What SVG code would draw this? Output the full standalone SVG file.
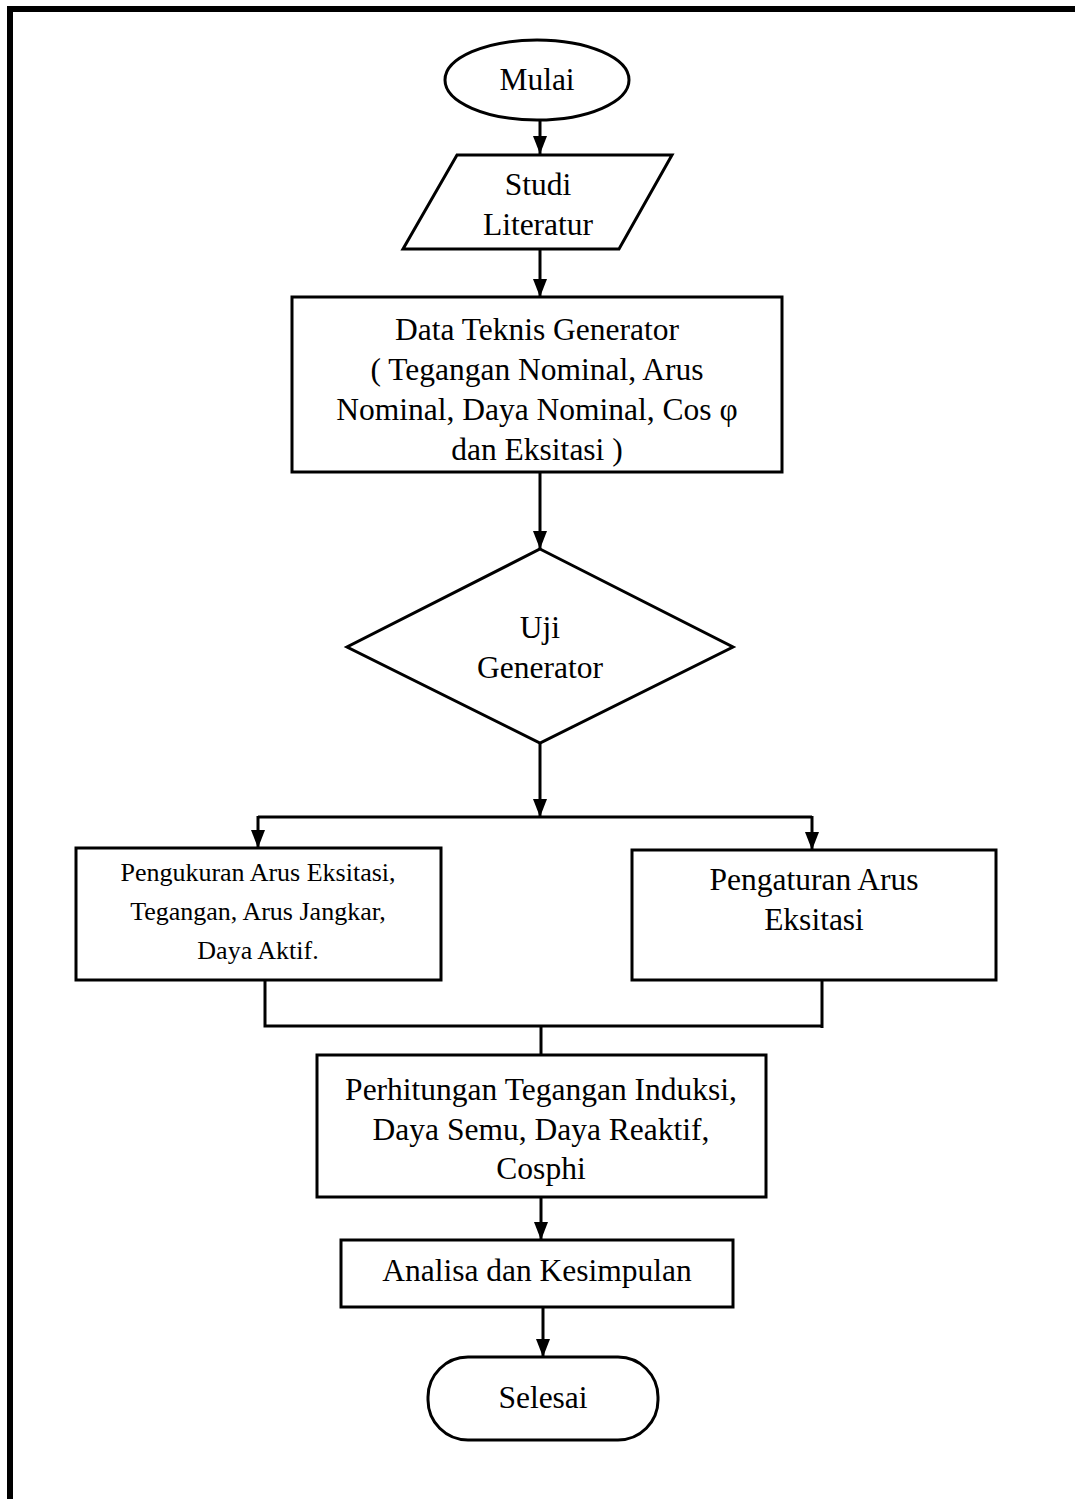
<svg xmlns="http://www.w3.org/2000/svg" width="1075" height="1499" viewBox="0 0 1075 1499">
<defs>
<marker id="ah" viewBox="0 0 18 14" refX="18" refY="7" markerWidth="18" markerHeight="14" markerUnits="userSpaceOnUse" orient="auto">
<path d="M0,0 L18,7 L0,14 z" fill="#000"/>
</marker>
<style>
.s{fill:#fff;stroke:#000;stroke-width:3}
.t{font-family:"Liberation Serif","Times New Roman",serif;font-size:31.5px;fill:#000;text-anchor:middle}
.ts{font-family:"Liberation Serif","Times New Roman",serif;font-size:26px;fill:#000;text-anchor:middle}
.c{fill:none;stroke:#000;stroke-width:3}
.a{fill:none;stroke:#000;stroke-width:3;marker-end:url(#ah)}
</style>
</defs>
<rect width="1075" height="1499" fill="#fff"/>
<path d="M10,1499 L10,9 L1075,9" fill="none" stroke="#000" stroke-width="6"/>
<g id="connectors">
<line class="a" x1="540" y1="120" x2="540" y2="154"/>
<line class="a" x1="540" y1="249" x2="540" y2="297"/>
<line class="a" x1="540" y1="472" x2="540" y2="549"/>
<line class="a" x1="540" y1="743" x2="540" y2="817"/>
<path class="c" d="M258,817 L812,817"/>
<line class="a" x1="258" y1="816" x2="258" y2="848"/>
<line class="a" x1="812" y1="816" x2="812" y2="850"/>
<path class="c" d="M265,980 L265,1026 L822,1026 M822,980 L822,1028"/>
<path class="c" d="M541,1026 L541,1055"/>
<line class="a" x1="541" y1="1197" x2="541" y2="1240"/>
<line class="a" x1="543" y1="1307" x2="543" y2="1357"/>
</g>
<g id="mulai">
<ellipse class="s" cx="537" cy="80" rx="92" ry="40"/>
<text class="t" x="537" y="90">Mulai</text>
</g>
<g id="studi">
<polygon class="s" points="457,155 672,155 619,249 403,249"/>
<text class="t" x="538" y="195">Studi</text>
<text class="t" x="538" y="235">Literatur</text>
</g>
<g id="data">
<rect class="s" x="292" y="297" width="490" height="175"/>
<text class="t" x="537" y="340">Data Teknis Generator</text>
<text class="t" x="537" y="380">( Tegangan Nominal, Arus</text>
<text class="t" x="537" y="420">Nominal, Daya Nominal, Cos φ</text>
<text class="t" x="537" y="460">dan Eksitasi )</text>
</g>
<g id="uji">
<polygon class="s" points="540,549 733,647 540,743 347,647"/>
<text class="t" x="540" y="638">Uji</text>
<text class="t" x="540" y="678">Generator</text>
</g>
<g id="pengukuran">
<rect class="s" x="76" y="848" width="365" height="132"/>
<text class="ts" x="258" y="881">Pengukuran Arus Eksitasi,</text>
<text class="ts" x="258" y="920">Tegangan, Arus Jangkar,</text>
<text class="ts" x="258" y="959">Daya Aktif.</text>
</g>
<g id="pengaturan">
<rect class="s" x="632" y="850" width="364" height="130"/>
<text class="t" x="814" y="890">Pengaturan Arus</text>
<text class="t" x="814" y="930">Eksitasi</text>
</g>
<g id="perhitungan">
<rect class="s" x="317" y="1055" width="449" height="142"/>
<text class="t" x="541" y="1100">Perhitungan Tegangan Induksi,</text>
<text class="t" x="541" y="1140">Daya Semu, Daya Reaktif,</text>
<text class="t" x="541" y="1179">Cosphi</text>
</g>
<g id="analisa">
<rect class="s" x="341" y="1240" width="392" height="67"/>
<text class="t" x="537" y="1281">Analisa dan Kesimpulan</text>
</g>
<g id="selesai">
<rect class="s" x="428" y="1357" width="230" height="83" rx="40" ry="40"/>
<text class="t" x="543" y="1408">Selesai</text>
</g>
</svg>
